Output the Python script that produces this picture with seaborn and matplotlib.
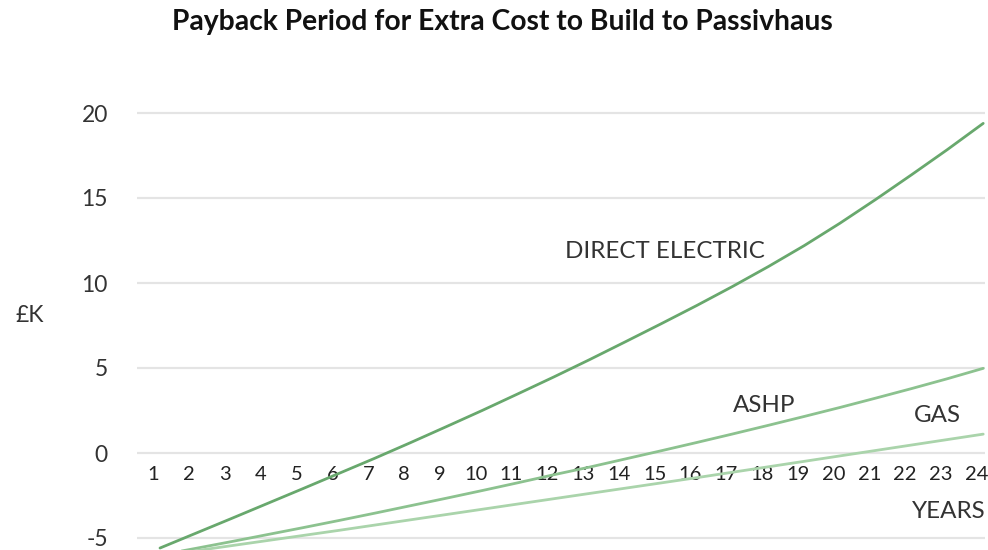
import numpy as np
import pandas as pd
import matplotlib
matplotlib.use("Agg")
import matplotlib.pyplot as plt
import seaborn as sns

# Cumulative net position (£K) after each year, per heating system
years = list(range(1, 25))
direct_electric = [-5.59, -4.72, -3.85, -2.97, -2.09, -1.20, -0.31, 0.61, 1.55, 2.50,
                   3.48, 4.47, 5.49, 6.54, 7.60, 8.68, 9.80, 10.97, 12.20, 13.52,
                   14.92, 16.37, 17.85, 19.39]
ashp = [-6.00, -5.61, -5.21, -4.80, -4.39, -3.97, -3.54, -3.10, -2.66, -2.21,
        -1.75, -1.28, -0.83, -0.35, 0.13, 0.62, 1.12, 1.63, 2.15, 2.68,
        3.23, 3.79, 4.37, 4.98]
gas = [-6.05, -5.75, -5.45, -5.15, -4.85, -4.55, -4.24, -3.93, -3.62, -3.31,
       -3.00, -2.69, -2.38, -2.07, -1.76, -1.45, -1.13, -0.81, -0.49, -0.17,
       0.15, 0.47, 0.79, 1.11]
series_names = ["DIRECT ELECTRIC", "ASHP", "GAS"]
y_ticks = [-5, 0, 5, 10, 15, 20]

df = pd.DataFrame({
    "year": years * 3,
    "value": direct_electric + ashp + gas,
    "system": [s for s in series_names for _ in years],
})

sns.set_theme(style="white")
plt.rcParams["font.family"] = ["Lato", "DejaVu Sans"]

fig = plt.figure(figsize=(9.88, 5.5), dpi=100)
ax = fig.add_axes([137 / 988, 0.0, (985 - 137) / 988, 450 / 550])

palette = {"DIRECT ELECTRIC": "#68a86d", "ASHP": "#8cc28f", "GAS": "#aad4ab"}
sns.lineplot(data=df, x="year", y="value", hue="system", palette=palette,
             linewidth=2.0, legend=False, ax=ax, zorder=3)

ax.set_xlim(1 - 23 / 35.78, 24.05)
ax.set_ylim((453 - 550) / 17, (453 - 100) / 17)

ax.set_yticks(y_ticks)
ax.set_yticklabels([str(v) for v in y_ticks], fontsize=16.5, color="#333333")
ax.yaxis.grid(True, color="#e4e4e4", linewidth=1.6, zorder=0)
ax.xaxis.grid(False)
ax.tick_params(axis="y", length=0, pad=21)

ax.spines["bottom"].set_position(("data", 0))
for side in ["top", "right", "left", "bottom"]:
    ax.spines[side].set_visible(False)
ax.set_xticks([y - 0.18 for y in years])
ax.set_xticklabels([str(y) for y in years], fontsize=14.5, color="#222222")
ax.tick_params(axis="x", length=0, pad=9)
ax.set_xlabel("")
ax.set_ylabel("")

label_style = dict(fontsize=17.4, color="#333333", va="center")
ax.text(12.32, 11.88, "DIRECT ELECTRIC", ha="left", **label_style)
ax.text(17.01, 2.82, "ASHP", ha="left", **label_style)
ax.text(22.05, 2.18, "GAS", ha="left", **label_style)
ax.text(24.06, -3.47, "YEARS", ha="right", **label_style)
fig.text(15 / 988, 1 - 316 / 550, "£K", fontsize=16.5, color="#333333",
         ha="left", va="center")

fig.text(502 / 988, 1 - 22 / 550, "Payback Period for Extra Cost to Build to Passivhaus",
         fontsize=20.3, fontweight="bold", color="#111111", ha="center", va="center")

fig.savefig("out.png", dpi=100)
